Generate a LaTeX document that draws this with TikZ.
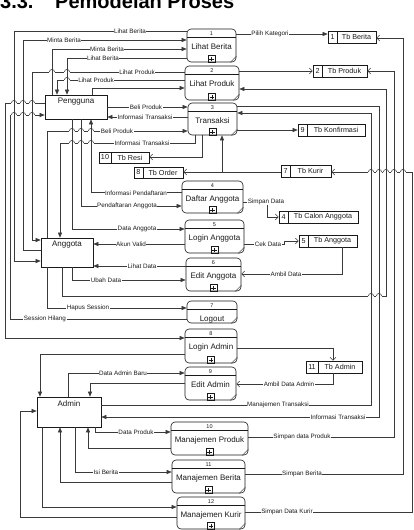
\documentclass[tikz,border=0pt]{standalone}
\usepackage{fontspec}
\setmainfont{Liberation Sans}
\usetikzlibrary{arrows.meta,fit}
\definecolor{ink}{HTML}{1A1A1A}
\definecolor{wiregray}{HTML}{3A3A3A}
\tikzset{
  procbox/.style={draw=ink,line width=0.6pt,rounded corners=4pt,inner sep=0pt},
  storebox/.style={draw=ink,line width=0.6pt,inner sep=0pt},
  entbox/.style={draw=ink,line width=0.6pt,inner sep=0pt},
  boxline/.style={draw=ink,line width=0.5pt},
  wire/.style={draw=wiregray,line width=0.55pt},
  flowarr/.style={wire,-{Triangle[length=5pt,width=4pt]}},
  storearr/.style={wire,-{Straight Barb[length=3pt,width=6pt]}},
  lbl/.style={font=\fontsize{6.3}{7}\selectfont,fill=white,inner sep=0.5pt,text=ink},
  numtxt/.style={font=\fontsize{5.5}{6}\selectfont,inner sep=0pt,text=ink},
  proctxt/.style={font=\fontsize{8}{9}\selectfont,inner sep=0pt,anchor=base,text=ink},
  storetxt/.style={font=\fontsize{7.2}{8}\selectfont,inner sep=0pt,text=ink},
  enttxt/.style={font=\fontsize{8}{9}\selectfont,inner sep=0pt,anchor=north,text=ink}
}
% process: name, x1, y1, x2, y2, number, title
\newcommand{\proc}[7]{%
  \node[procbox,fit={(#2,#3) (#4,#5)}] (#1) {};
  \draw[boxline] ([yshift=-9pt]#1.north west) -- ([yshift=-9pt]#1.north east);
  \node[numtxt] (#1-num) at ([yshift=-4.6pt]#1.north) {#6};
  \node[proctxt] (#1-txt) at ([yshift=-20.5pt]#1.north) {#7};
  \draw[boxline] ([xshift=-6pt]#1.south east) -- ([yshift=6pt]#1.south east);
}
\newcommand{\plusmark}[1]{%
  \draw[boxline] ([xshift=-3.5pt]#1.south) rectangle ([xshift=3.5pt,yshift=7pt]#1.south);
  \draw[boxline] ([xshift=-2.2pt,yshift=3.5pt]#1.south) -- ([xshift=2.2pt,yshift=3.5pt]#1.south)
                 ([yshift=1.3pt]#1.south) -- ([yshift=5.7pt]#1.south);
}
% data store: name, x1, y1, x2, y2, divider x, number, title
\newcommand{\store}[8]{%
  \node[storebox,fit={(#2,#3) (#4,#5)}] (#1) {};
  \draw[boxline] (#6,#3) -- (#6,#5);
  \node[storetxt] (#1-num) at ({(#2+#6)/2},{(#3+#5)/2}) {#7};
  \node[storetxt] (#1-txt) at ({(#6+#4)/2},{(#3+#5)/2}) {#8};
}
% external entity: name, x1, y1, x2, y2, title
\newcommand{\entity}[6]{%
  \node[entbox,fit={(#2,#3) (#4,#5)}] (#1) {};
  \node[enttxt] (#1-txt) at ([yshift=-3.5pt]#1.north) {#6};
}
% line jump of a horizontal wire over a vertical one
\newcommand{\hop}[2]{%
  \fill[white] ({#1-2.6},{#2-0.9}) rectangle ({#1+2.6},{#2+0.9});
  \draw[wire] ({#1},{#2-1.3}) -- ({#1},{#2+1.3});
  \draw[wire] ({#1-2.6},{#2}) arc (180:360:2.6);
}

\begin{document}
\begin{tikzpicture}[x=1pt,y=-1pt]
  \useasboundingbox (0,0) rectangle (414,530);

  % heading
  \node[anchor=base west,inner sep=0pt,font=\fontsize{20}{24}\selectfont\bfseries] (hnum) at (0,9) {3.3.};
  \node[anchor=base west,inner sep=0pt,font=\fontsize{20}{24}\selectfont\bfseries] (htitle) at (55,9) {Pemodelan Proses};

  % entities
  \entity{pengguna}{45}{95}{107}{119}{Pengguna}
  \entity{anggota}{41}{238}{93}{267}{Anggota}
  \entity{admin}{37}{397}{101}{427}{Admin}

  % processes
  \proc{p1}{187}{29}{236}{62}{1}{Lihat Berita}\plusmark{p1}
  \proc{p2}{185}{66}{239}{100}{2}{Lihat Produk}\plusmark{p2}
  \proc{p3}{188}{103}{237}{135}{3}{Transaksi}\plusmark{p3}
  \proc{p4}{182}{181}{243}{213}{4}{Daftar Anggota}\plusmark{p4}
  \proc{p5}{185}{220}{244}{253}{5}{Login Anggota}\plusmark{p5}
  \proc{p6}{186}{258}{241}{291}{6}{Edit Anggota}\plusmark{p6}
  \proc{p7}{187}{301}{237}{323}{7}{Logout}
  \proc{p8}{185}{329}{237}{363}{8}{Login Admin}\plusmark{p8}
  \proc{p9}{185}{367}{236}{400}{9}{Edit Admin}\plusmark{p9}
  \proc{p10}{171}{422}{248}{455}{10}{Manajemen Produk}\plusmark{p10}
  \proc{p11}{172}{460}{245}{493}{11}{Manajemen Berita}\plusmark{p11}
  \proc{p12}{177}{497}{245}{529}{12}{Manajemen Kurir}\plusmark{p12}

  % data stores
  \store{sBerita}{328}{31}{376}{43}{337}{1}{Tb Berita}
  \store{sProduk}{313}{65}{367}{77}{322}{2}{Tb Produk}
  \store{sKonf}{298}{124}{365}{136}{307}{9}{Tb Konfirmasi}
  \store{sResi}{99}{152}{149}{163}{111}{10}{Tb Resi}
  \store{sOrder}{134}{167}{183}{178}{143}{8}{Tb Order}
  \store{sKurir}{281}{165}{331}{177}{290}{7}{Tb Kurir}
  \store{sCalon}{279}{211}{358}{223}{288}{4}{Tb Calon Anggota}
  \store{sAnggota}{299}{235}{357}{247}{308}{5}{Tb Anggota}
  \store{sAdmin}{306}{361}{362}{373}{318}{11}{Tb Admin}

  % flows round Pengguna and Anggota
  \draw[flowarr] (p1.west |- 0,31) -| (14,261) -- (anggota.west |- 0,261);
  \draw[flowarr] (anggota.west |- 0,250) -| (23,40) -- (p1.west |- 0,40);
  \draw[flowarr] (pengguna.north -| 52,0) |- (p1.west |- 0,49);
  \draw[flowarr] (p1.west |- 0,58) -| (pengguna.north -| 67,0);
  \draw[flowarr] (p2.west |- 0,72) -| (32,240) -- (anggota.west |- 0,240);
  \draw[flowarr] (p2.west |- 0,80) -| (pengguna.north -| 57,0);
  \draw[flowarr] (pengguna.north -| 92,0) |- (p2.west |- 0,88);
  \draw[flowarr] (pengguna.west |- 0,103) -| (5,338) -- (p8.west |- 0,338);
  \draw[flowarr] (p7.west |- 0,319) -| (10,115) -- (pengguna.west |- 0,115);
  \draw[flowarr] (pengguna.east |- 0,107) -- (p3.west |- 0,107);
  \draw[flowarr] (p3.west |- 0,117) -- (pengguna.east |- 0,117);
  \draw[flowarr] (anggota.north -| 47,0) |- (p3.west |- 0,131);
  \draw[flowarr] (p3.south -| 195,0) |- (60,143) -- (anggota.north -| 60,0);
  \draw[flowarr] (p4.west |- 0,192) -| (pengguna.south -| 91,0);
  \draw[flowarr] (pengguna.south -| 81,0) |- (p4.west |- 0,206);
  \draw[flowarr] (pengguna.south -| 72,0) |- (p5.west |- 0,229);
  \draw[flowarr] (p5.west |- 0,244) -- (anggota.east |- 0,244);
  \draw[flowarr] (p6.west |- 0,266) -- (anggota.east |- 0,266);
  \draw[flowarr] (anggota.south -| 72,0) |- (p6.west |- 0,280);
  \draw[flowarr] (anggota.south -| 62,0) |- (386,296) |- (p2.east |- 0,89);
  \draw[flowarr] (anggota.south -| 47,0) |- (p7.west |- 0,308);

  % flows round Admin
  \draw[flowarr] (p8.west |- 0,354) -| (admin.north -| 40,0);
  \draw[flowarr] (admin.north -| 68,0) |- (p9.west |- 0,373);
  \draw[flowarr] (p9.west |- 0,383) -| (admin.north -| 90,0);
  \draw[flowarr] (admin.east |- 0,405) -| (371,113) -- (p3.east |- 0,113);
  \draw[flowarr] (p3.east |- 0,106) -| (379,417) -- (admin.east |- 0,417);
  \draw[flowarr] (admin.south -| 95,0) |- (p10.west |- 0,432);
  \draw[flowarr] (p10.west |- 0,448) -| (admin.south -| 88,0);
  \draw[flowarr] (admin.south -| 75,0) |- (p11.west |- 0,472);
  \draw[flowarr] (p11.west |- 0,482) -| (admin.south -| 60,0);
  \draw[flowarr] (admin.south -| 42,0) |- (p12.west |- 0,507);
  \draw[flowarr] (p12.west |- 0,517) -| (20,411) -- (admin.west |- 0,411);

  % flows to and from the stores
  \coordinate (kurirtap) at (222,172);
  \draw[flowarr] (p1.east |- 0,34) -- (sBerita.west |- 0,34);
  \draw[storearr] (p2.east |- 0,71) -- (sProduk.west |- 0,71);
  \draw[flowarr] (p3.east |- 0,130) -- (sKonf.west |- 0,130);
  \draw[storearr] (p3.south -| 202,0) |- (sResi.east |- 0,157);
  \draw[flowarr] (sKurir.west |- kurirtap) -- (kurirtap) -- (p3.south -| kurirtap);
  \draw[storearr] (kurirtap) -- (sOrder.east |- kurirtap);
  \draw[storearr] (p4.east |- 0,202) -| (267,217) -- (sCalon.west |- 0,217);
  \draw[storearr] (p5.east |- 0,244) -| (284,241) -- (sAnggota.west |- 0,241);
  \draw[storearr] (sAnggota.south -| 342,0) |- (p6.east |- 0,274);
  \draw[storearr] (p8.east |- 0,348) -| (sAdmin.north -| 333,0);
  \draw[storearr] (sAdmin.south -| 333,0) |- (p9.east |- 0,384);
  \draw[storearr] (p10.east |- 0,437) -| (394,71) -- (sProduk.east |- 0,71);
  \draw[storearr] (p11.east |- 0,474) -| (403,38) -- (sBerita.east |- 0,38);
  \draw[storearr] (p12.east |- 0,512) -| (412,172) -- (sKurir.east |- 0,172);

  % line jumps
  \foreach \hx in {14,23,32}{\hop{\hx}{103}\hop{\hx}{115}}
  \hop{52}{72}\hop{67}{72}\hop{67}{80}
  \foreach \hx in {72,81,91}{\hop{\hx}{131}\hop{\hx}{143}}
  \hop{371}{296}\hop{379}{296}
  \foreach \hx in {371,379,386,394,403}{\hop{\hx}{172}}

  % flow labels
  \node[lbl] (l1) at (130,31) {Lihat Berita};
  \node[lbl] (l2) at (64,40) {Minta Berita};
  \node[lbl] (l3) at (107,49) {Minta Berita};
  \node[lbl] (l4) at (103,58) {Lihat Berita};
  \node[lbl] (l5) at (137,72) {Lihat Produk};
  \node[lbl] (l6) at (96,80) {Lihat Produk};
  \node[lbl] (l7) at (146,107) {Beli Produk};
  \node[lbl] (l8) at (145,117) {Informasi Transaksi};
  \node[lbl] (l9) at (117,131) {Beli Produk};
  \node[lbl] (l10) at (142,143) {Informasi Transaksi};
  \node[lbl] (l11) at (136,193) {Informasi Pendaftaran};
  \node[lbl] (l12) at (127,206) {Pendaftaran Anggota};
  \node[lbl] (l13) at (137,229) {Data Anggota};
  \node[lbl] (l14) at (131,244) {Akun Valid};
  \node[lbl] (l15) at (142,266) {Lihat Data};
  \node[lbl] (l16) at (106,280) {Ubah Data};
  \node[lbl] (l17) at (88,308) {Hapus Session};
  \node[lbl] (l18) at (45,319) {Session Hilang};
  \node[lbl] (l19) at (123,373) {Data Admin Baru};
  \node[lbl] (l20) at (278,405) {Manajemen Transaksi};
  \node[lbl] (l21) at (338,417) {Informasi Transaksi};
  \node[lbl] (l22) at (136,432) {Data Produk};
  \node[lbl] (l23) at (106,472) {Isi Berita};
  \node[lbl] (l24) at (270,34) {Pilih Kategori};
  \node[lbl] (l25) at (266,202) {Simpan Data};
  \node[lbl] (l26) at (268,244) {Cek Data};
  \node[lbl] (l27) at (286,274) {Ambil Data};
  \node[lbl] (l28) at (289,384) {Ambil Data Admin};
  \node[lbl] (l29) at (302,437) {Simpan data Produk};
  \node[lbl] (l30) at (302,474) {Simpan Berita};
  \node[lbl] (l31) at (287,512) {Simpan Data Kurir};
\end{tikzpicture}
\end{document}
